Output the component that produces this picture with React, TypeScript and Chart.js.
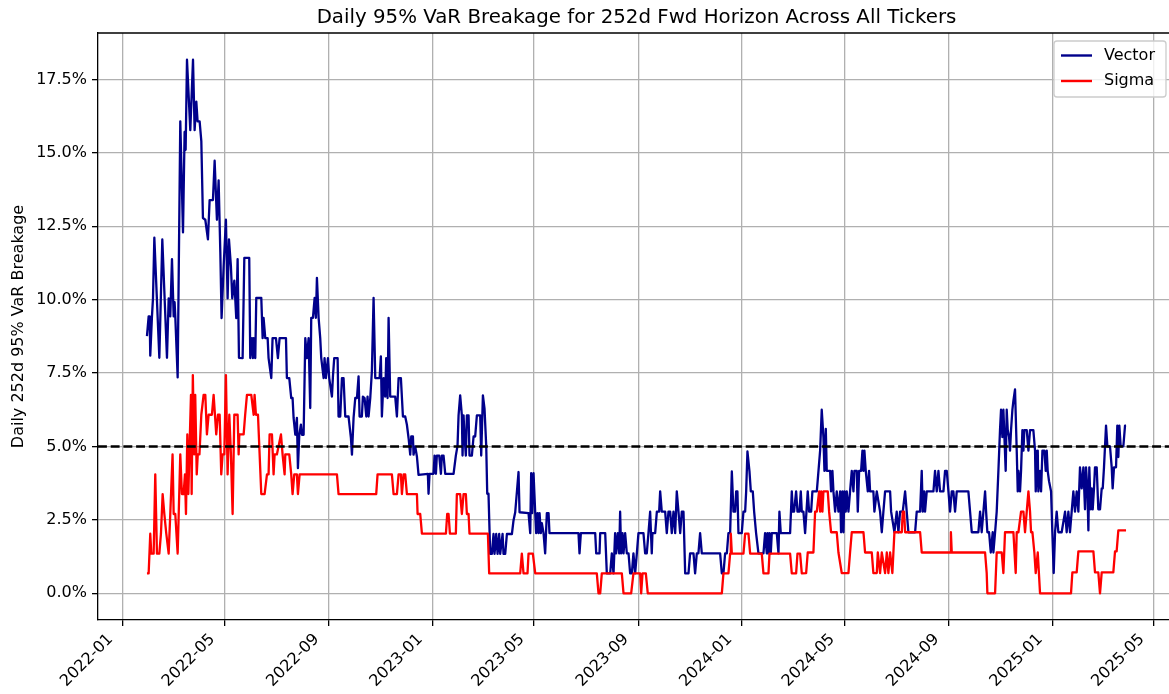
import React, { useEffect, useRef } from "react";
import { Chart, registerables } from "chart.js";

Chart.register(...registerables);

// ---------- data ----------
const EPOCH = Date.UTC(2022, 0, 1); // day offsets below are counted from 2022-01-01
const DAY_MS = 86400000;

const TITLE = "Daily 95% VaR Breakage for 252d Fwd Horizon Across All Tickers";
const Y_LABEL = "Daily 252d 95% VaR Breakage";
const SERIES_NAMES = ["Vector", "Sigma"];
const X_TICK_LABELS = [
  "2022-01", "2022-05", "2022-09", "2023-01", "2023-05", "2023-09",
  "2024-01", "2024-05", "2024-09", "2025-01", "2025-05",
];
const Y_TICKS = [0, 2.5, 5, 7.5, 10, 12.5, 15, 17.5];
const THRESHOLD = 5.0;

const VECTOR_DAYS = [
  28.7, 30.7, 31.9, 32.6, 34.6, 35.8, 37.4, 43.3, 46.8, 52.3, 54.3, 56.2, 58.2, 60.2, 61.3, 62.1, 64.9, 68.0,
  71.2, 73.1, 74.3, 75.9, 79.8, 83.0, 84.9, 86.9, 88.4, 90.8, 92.8, 94.7, 97.5, 100.6, 102.6, 106.5, 108.5,
  111.2, 113.2, 115.2, 116.7, 119.1, 121.8, 123.8, 125.4, 127.7, 129.3, 131.7, 134.0, 135.6, 137.2,
  141.5, 143.5, 149.3, 150.5, 152.5, 153.7, 154.5, 156.4, 157.6, 163.5, 165.1, 166.2, 168.2, 171.0, 172.1,
  175.3, 176.8, 180.8, 183.1, 185.1, 192.6, 193.7, 196.5, 198.8, 200.4, 201.6, 203.6, 205.5, 206.7, 208.3,
  210.2, 211.4, 213.4, 215.4, 217.3, 219.3, 221.2, 222.4, 224.4, 226.4, 227.9, 229.1, 231.1, 233.0, 234.2,
  237.0, 238.1, 239.7, 242.1, 243.6,
  246.8, 248.0, 249.5, 253.5, 254.6, 256.6, 258.6, 260.5, 262.5, 266.4, 269.2, 270.4, 272.3, 274.3, 276.3,
  278.2, 279.4, 282.1, 283.3, 285.3, 287.3, 288.8, 290.0, 292.0, 293.9, 295.9, 297.9, 303.0, 304.5, 305.7,
  307.7, 309.6, 310.8, 312.4, 313.6, 315.5, 321.4, 323.4, 325.4, 328.1, 330.5, 333.2, 335.2, 337.2, 339.1,
  340.3, 342.3, 343.0, 345.0, 347.0, 348.9,
  359.9, 360.7, 361.9, 366.6, 367.8, 369.4, 370.5, 373.3, 375.3, 376.4, 378.4, 380.4, 390.2, 392.9, 394.9,
  396.1, 398.0, 400.0, 400.8, 402.0, 403.1, 404.7, 405.9, 407.9, 409.0, 411.8, 413.8, 415.7, 417.7, 421.6,
  422.8, 424.8, 426.7, 428.7, 429.9, 431.4, 433.4, 435.4, 437.3, 438.5, 440.5, 442.1, 444.0, 445.2, 448.0,
  449.1, 451.1, 453.1, 459.0, 460.9, 462.9, 466.8, 468.0,
  478.6, 480.6, 481.7, 482.9, 484.5, 486.5, 487.6, 489.2, 490.4, 491.6, 493.1, 494.3, 496.3, 498.2, 500.2,
  502.2, 503.3, 537.5, 538.7, 540.3, 557.2, 558.4, 562.3, 563.1, 569.0, 570.9, 574.9, 576.8, 578.8,
  580.7, 581.9, 583.9, 585.5, 586.6, 587.8, 589.4, 590.6, 592.5, 594.5, 596.5, 598.4, 600.4, 602.3, 604.3,
  606.3, 608.2, 614.1, 616.1, 618.0, 620.0, 622.0, 623.9, 624.7, 627.9, 629.9, 632.6, 633.8, 635.7, 639.7,
  641.6, 643.6, 645.6, 647.5, 649.5, 651.5, 653.4, 655.4, 657.4, 659.3, 661.3, 663.3, 667.2, 669.1, 673.1,
  675.0, 677.0, 678.9, 680.9, 682.9,
  704.5, 706.5, 708.4, 710.4, 712.4, 714.3, 716.3, 718.3, 720.2, 722.2, 723.4, 724.9, 726.1, 730.0, 732.0,
  734.0, 735.2, 736.7, 739.1, 740.7, 743.0, 744.6, 746.9, 749.7, 755.6, 757.5, 759.5, 760.3, 761.5, 762.7,
  764.2, 765.4, 771.3, 773.3, 774.4, 776.0, 787.0, 789.0, 790.2, 791.7, 794.1, 795.7, 798.0, 799.6, 800.8,
  802.7, 804.7,
  807.8, 809.4, 811.8, 813.3, 818.5, 822.4, 824.3, 826.3, 827.5, 829.1, 830.2, 834.2, 835.3, 836.9, 838.1,
  840.1, 842.0, 844.0, 846.0, 847.1, 848.7, 849.9, 851.1, 852.6, 853.8, 855.8, 857.7, 859.7, 861.7, 862.8,
  865.6, 866.8, 868.4, 870.7, 872.3, 873.5, 874.6, 876.2, 878.6, 880.1, 881.3, 885.2, 886.4, 889.2, 893.1,
  895.1, 897.0, 899.0, 904.9, 906.1, 910.0, 912.7, 914.7,
  916.7, 919.8, 922.6, 924.5, 926.5, 934.4, 936.3, 940.3, 942.2, 943.4, 945.0, 946.1, 948.1, 956.0, 957.9,
  959.9, 961.9, 963.8, 967.8, 969.7, 971.7, 973.7, 975.6, 977.6, 979.5, 981.5, 983.5, 997.2, 999.2, 1001.2,
  1009.0, 1011.0, 1012.9, 1016.9, 1018.1, 1019.6, 1021.6, 1023.6, 1025.9, 1026.7, 1028.7, 1030.6,
  1032.6, 1034.5, 1035.7, 1037.3, 1038.5, 1039.7, 1041.2, 1042.4, 1043.6, 1045.2, 1046.3, 1047.5, 1049.1,
  1050.3, 1052.2, 1054.2, 1055.4, 1056.2, 1058.1, 1059.3, 1060.9, 1062.1, 1063.2, 1066.0, 1068.0, 1069.9,
  1073.8, 1075.8, 1076.6, 1077.8, 1079.0, 1079.7, 1081.7, 1082.9, 1084.5, 1086.8, 1088.4, 1089.6, 1090.7,
  1092.3, 1094.7, 1096.2, 1097.8, 1099.4, 1101.3, 1103.3, 1107.2, 1111.2, 1113.1, 1115.1, 1117.0, 1119.0,
  1121.0, 1122.9, 1124.9, 1126.9,
  1128.8, 1130.8, 1132.8, 1134.7, 1135.9, 1137.5, 1138.7, 1139.8, 1141.4, 1142.6, 1143.8, 1145.3, 1146.5,
  1148.5, 1150.4, 1152.4, 1154.4, 1155.6, 1157.1, 1159.5, 1161.1, 1164.2, 1166.2, 1167.3, 1168.9, 1171.3,
  1172.8, 1174.0, 1175.2, 1176.8, 1179.9, 1181.9, 1183.1,
];
const VECTOR_VALUES = [
  8.76, 9.43, 9.43, 8.09, 9.43, 10.04, 12.11, 8.02, 12.05, 8.02, 10.04, 9.43, 11.38, 9.43, 9.91, 9.43, 7.35, 16.07,
  12.29, 15.71, 15.10, 18.17, 15.77, 18.17, 15.77, 16.74, 16.07, 16.07, 15.40, 12.78, 12.72, 12.05, 13.39, 13.39, 14.73,
  12.72, 14.06, 11.62, 9.37, 11.13, 12.72, 10.04, 12.05, 11.13, 10.04, 10.65, 9.37, 11.38, 8.02,
  8.01, 11.42, 11.42, 8.01, 8.69, 8.01, 8.69, 8.01, 10.06, 10.06, 8.69, 9.38, 8.69, 8.69, 8.01,
  7.33, 8.69, 8.69, 8.01, 8.69, 8.69, 7.33, 7.33, 6.65, 6.65, 5.97, 5.40, 5.97, 4.26, 5.40,
  5.74, 5.40, 5.40, 8.69, 8.01, 8.69, 6.31, 9.38, 9.38, 10.06, 9.38, 10.74, 9.38, 8.69, 8.01,
  7.33, 8.01, 7.33, 8.01, 7.33,
  6.70, 7.39, 8.01, 8.01, 6.02, 6.02, 7.33, 7.33, 6.02, 6.02, 5.28, 4.72, 5.97, 6.65, 6.65,
  7.39, 6.02, 6.02, 6.70, 6.65, 6.02, 6.70, 6.02, 6.65, 7.56, 10.06, 7.33, 7.33, 8.07, 6.02,
  7.33, 6.70, 8.01, 6.65, 9.38, 6.70, 6.70, 6.02, 7.33, 7.33, 6.02, 6.02, 5.74, 5.28, 4.72,
  5.34, 5.34, 4.72, 5.00, 4.66, 4.03,
  4.07, 3.39, 4.07, 4.07, 4.69, 4.07, 4.69, 4.69, 4.07, 4.69, 4.69, 4.07, 4.07, 4.69, 5.03,
  6.06, 6.74, 6.06, 4.69, 6.06, 5.34, 4.69, 6.06, 6.06, 4.69, 4.69, 5.34, 5.34, 6.06, 6.06,
  4.69, 6.74, 6.29, 5.03, 3.39, 3.39, 1.34, 1.34, 2.02, 1.34, 2.02, 1.34, 2.02, 1.34, 2.02,
  1.34, 1.34, 2.02, 2.02, 2.48, 2.76, 4.13, 2.76,
  2.73, 2.05, 4.09, 2.73, 4.09, 2.73, 2.05, 2.73, 2.05, 2.73, 2.05, 2.39, 2.05, 1.36, 2.73,
  2.73, 2.05, 2.05, 1.36, 2.05, 2.05, 1.36, 1.36, 2.05, 2.05, 0.68, 0.68, 1.36, 0.68,
  2.05, 1.36, 2.05, 1.36, 2.78, 1.36, 2.05, 1.36, 2.05, 1.36, 1.36, 0.68, 0.68, 1.36, 0.68,
  1.36, 2.05, 2.05, 1.36, 1.36, 2.05, 2.78, 1.36, 2.05, 2.05, 2.78, 2.78, 3.47, 2.78, 2.78,
  2.05, 2.78, 2.78, 2.05, 2.78, 2.05, 3.47, 2.78, 2.05, 2.78, 2.78, 0.68, 0.68, 1.36, 1.36,
  0.68, 1.36, 1.36, 2.05, 1.36,
  1.36, 0.68, 0.68, 1.36, 1.36, 2.05, 2.05, 4.15, 2.78, 2.78, 3.47, 3.47, 2.05, 2.05, 2.78,
  2.78, 3.47, 4.83, 4.15, 3.47, 3.47, 2.78, 2.05, 1.36, 1.36, 2.05, 1.36, 2.05, 1.36, 2.05,
  1.36, 2.05, 2.05, 1.36, 2.78, 2.05, 2.05, 3.47, 2.78, 2.78, 3.47, 2.78, 2.78, 3.47, 2.78,
  2.78, 2.05,
  3.47, 2.78, 2.78, 3.47, 3.47, 4.86, 6.25, 5.32, 4.17, 5.60, 4.17, 4.17, 3.47, 4.17, 3.47,
  2.78, 3.47, 2.78, 3.47, 2.08, 3.47, 2.08, 3.47, 2.78, 3.47, 2.78, 3.47, 4.17, 3.47, 4.17,
  4.17, 2.78, 4.17, 4.17, 4.86, 4.17, 4.86, 4.17, 3.47, 4.17, 3.47, 3.47, 2.78, 3.47, 2.78,
  2.08, 2.78, 3.47, 3.47, 2.78, 2.08, 2.78, 2.08,
  2.78, 2.78, 3.47, 2.78, 2.08, 2.08, 2.78, 2.78, 4.17, 2.78, 3.47, 2.78, 3.47, 3.47, 4.17,
  3.47, 4.17, 3.47, 3.47, 4.17, 4.17, 3.47, 2.78, 3.47, 3.47, 2.78, 3.47, 3.47, 2.78, 2.08,
  2.08, 2.78, 2.08, 3.47, 2.78, 2.08, 2.08, 1.39, 2.08, 1.39, 2.08, 2.78,
  4.17, 5.56, 6.25, 5.32, 6.25, 5.32, 4.17, 6.25, 5.56, 5.32, 4.86, 5.56, 6.25,
  6.56, 6.94, 4.86, 3.47, 4.17, 3.47, 4.17, 5.56, 4.86, 5.56, 5.56, 4.86, 5.56,
  5.56, 4.86, 3.47, 4.17, 4.86, 3.47, 4.17, 3.47, 4.86, 4.86, 4.17, 4.86, 4.17,
  3.82, 3.47, 2.08, 0.69, 2.08, 2.78, 2.08, 2.08, 2.78, 2.08, 2.78, 2.08, 2.78,
  3.47, 2.78, 3.47, 2.78,
  4.29, 3.57, 4.29, 2.86, 4.29, 3.57, 2.14, 4.29, 2.86, 3.57, 2.86, 3.57, 4.29,
  4.29, 2.86, 2.86, 3.57, 3.57, 4.29, 5.71, 5.00, 5.00, 4.29, 3.57, 4.29, 4.29,
  5.71, 4.64, 5.71, 5.00, 5.00, 5.71, 5.71,
];

const SIGMA_DAYS = [
  28.7, 30.7, 32.6, 33.8, 36.6, 38.5, 40.5, 43.3, 45.2, 47.2, 49.2, 51.5, 54.3, 56.2, 58.9, 60.2, 62.1, 64.9,
  68.0, 69.9, 71.9, 73.5, 74.7, 76.3, 77.5, 78.7, 80.6, 81.4, 82.8, 84.4, 85.6, 87.4, 88.6, 90.6, 92.8, 95.5,
  97.5, 99.4, 101.4, 105.3, 107.3, 110.4, 112.4, 114.4, 116.3, 117.9, 119.9, 121.8, 123.8, 125.8, 127.7,
  129.7, 131.7, 135.6, 136.8, 137.6, 142.7, 144.5, 146.6, 151.7, 154.5, 155.6, 157.2, 159.6, 163.5, 167.4,
  170.2, 172.1, 173.3, 176.1, 178.0, 179.2, 181.9, 186.7, 188.6, 191.0, 191.8, 196.5, 198.8, 200.4, 202.4,
  205.5, 206.7, 208.7, 252.7, 254.6, 299.0, 300.6, 317.5, 319.5, 323.4, 325.4, 328.1, 329.3, 331.3, 333.2,
  335.2, 347.0, 347.8, 350.9, 352.9, 381.2, 382.7, 384.3, 385.9, 392.9, 394.1, 398.0, 400.0, 402.0, 404.7,
  405.9, 407.9, 409.0, 430.7, 432.2, 468.8, 470.7, 472.7, 477.4, 478.6, 483.7, 486.5, 559.1, 561.1, 563.1,
  565.0, 588.6, 590.6, 599.6, 602.3, 610.2, 611.4, 613.0, 616.9, 619.2, 706.5, 708.4, 714.3, 716.3, 717.1,
  718.3, 732.0, 734.0, 737.9, 739.9, 753.6, 755.6, 761.5, 762.7, 787.0, 789.0, 794.1, 795.7, 798.8, 800.8,
  805.9, 807.8, 814.5, 816.5, 818.5, 821.2, 822.4, 823.6, 825.1, 826.3, 831.4, 833.0, 835.3, 842.0, 844.0,
  847.9, 855.8, 857.7, 859.7, 873.5, 875.4, 883.3, 885.2, 889.2, 890.4, 893.1, 895.1, 899.0, 901.0, 902.9,
  904.9, 907.6, 910.0, 918.7, 919.8, 921.4, 922.6, 940.3, 942.2, 975.6, 976.6, 977.6, 1016.9, 1018.8, 1019.6,
  1028.7, 1030.6, 1036.5, 1038.5, 1040.4, 1050.3, 1053.0, 1054.2, 1056.2, 1059.3, 1062.1, 1064.0, 1066.0,
  1068.0, 1069.9, 1071.1, 1072.7, 1075.0, 1076.6, 1079.0, 1081.7, 1118.2, 1119.8, 1124.9, 1126.9, 1144.6,
  1146.5, 1150.4, 1152.4, 1154.4, 1168.1, 1170.1, 1172.0, 1174.0, 1183.1,
];
const SIGMA_VALUES = [
  0.68, 0.68, 2.03, 1.35, 1.35, 4.05, 1.35, 1.35, 2.03, 3.38, 2.70, 2.03, 1.35, 2.70, 4.73, 2.70, 2.70, 1.35,
  4.73, 3.38, 3.38, 4.05, 2.70, 5.41, 3.38, 4.73, 6.76, 3.38, 7.43, 4.73, 6.76, 4.05, 4.73, 4.73, 6.08, 6.76,
  6.76, 5.41, 6.08, 6.08, 6.76, 5.41, 6.08, 6.08, 4.05, 4.73, 4.73, 7.43, 4.05, 6.08, 4.73,
  2.70, 6.08, 6.08, 4.73, 5.41, 5.41, 6.08, 6.76, 6.76, 6.08, 6.76, 6.08, 6.08, 3.38, 3.38,
  4.05, 4.05, 5.41, 5.41, 4.05, 4.73, 4.73, 5.41, 4.73, 4.05, 4.73, 4.73, 4.05, 3.38, 4.05,
  4.05, 3.38, 4.05, 4.05, 3.38, 3.38, 4.05, 4.05, 3.38, 3.38, 4.05, 4.05, 3.38, 4.05, 4.05,
  3.38, 3.38, 2.70, 2.70, 2.03, 2.03, 2.70, 2.70, 2.03, 2.03, 3.38, 3.38, 2.70, 3.38, 3.38,
  2.70, 2.70, 2.03, 2.03, 0.68, 0.68, 1.35, 0.68, 0.68, 1.35, 1.35, 0.68, 0.68, 0, 0,
  0.68, 0.68, 0, 0, 0.68, 0.68, 0, 0.68, 0.68, 0, 0, 0.68, 0.68, 1.35, 2.03,
  1.35, 1.35, 2.03, 2.03, 1.35, 1.35, 0.68, 0.68, 1.35, 1.35, 0.68, 0.68, 1.35, 1.35, 0.68,
  0.69, 1.39, 1.39, 2.78, 2.78, 3.47, 2.78, 3.47, 2.78, 3.47, 3.47, 2.78, 2.08, 2.08, 1.39,
  0.69, 0.69, 1.39, 2.08, 2.08, 1.39, 1.39, 0.69, 0.69, 1.39, 0.69, 1.39, 0.69, 1.39, 0.69,
  1.39, 0.69, 2.08, 2.08, 2.78, 2.78, 2.08, 2.08, 1.39, 1.39, 2.08, 1.39, 1.39, 0.69, 0,
  0, 1.39, 1.39, 0.69, 2.08, 2.08, 0.69, 2.08, 2.08, 2.78, 2.78, 2.08, 2.78,
  3.47, 2.78, 2.08, 2.08, 1.39, 0.69, 1.39, 0, 0, 0.71, 0.71, 1.43, 1.43,
  0.71, 0.71, 0, 0.71, 0.71, 1.43, 1.43, 2.14, 2.14,
];

// ---------- layout / style ----------
const CANVAS_W = 1176;
const CANVAS_H = 694;
const PLOT_LEFT = 98;
const PLOT_TOP = 33;
const PLOT_BOTTOM = 620;
const PLOT_RIGHT = 1175;
const FONT = '"DejaVu Sans", sans-serif';
const VECTOR_COLOR = "#00008b";
const SIGMA_COLOR = "#ff0000";
const GRID_COLOR = "#b0b0b0";

function toDay(label: string): number {
  const [y, m] = label.split("-").map(Number);
  return (Date.UTC(y, m - 1, 1) - EPOCH) / DAY_MS;
}

const decorPlugin = {
  id: "decor",
  afterDraw(chart: any) {
    const { ctx, chartArea: a } = chart;
    ctx.save();
    // top / right spines
    ctx.strokeStyle = "#000";
    ctx.lineWidth = 1.3;
    ctx.beginPath();
    ctx.moveTo(a.left, a.top);
    ctx.lineTo(a.right, a.top);
    ctx.lineTo(a.right, a.bottom);
    ctx.stroke();

    // title
    ctx.fillStyle = "#000";
    ctx.font = `19.8px ${FONT}`;
    ctx.textAlign = "center";
    ctx.textBaseline = "alphabetic";
    ctx.fillText(TITLE, (a.left + a.right) / 2, 23);

    // legend
    const bx = 1054, by = 41, bw = 112, bh = 56, r = 3;
    ctx.beginPath();
    ctx.moveTo(bx + r, by);
    ctx.lineTo(bx + bw - r, by);
    ctx.quadraticCurveTo(bx + bw, by, bx + bw, by + r);
    ctx.lineTo(bx + bw, by + bh - r);
    ctx.quadraticCurveTo(bx + bw, by + bh, bx + bw - r, by + bh);
    ctx.lineTo(bx + r, by + bh);
    ctx.quadraticCurveTo(bx, by + bh, bx, by + bh - r);
    ctx.lineTo(bx, by + r);
    ctx.quadraticCurveTo(bx, by, bx + r, by);
    ctx.closePath();
    ctx.fillStyle = "rgba(255,255,255,0.8)";
    ctx.fill();
    ctx.strokeStyle = "#cccccc";
    ctx.lineWidth = 1.3;
    ctx.stroke();

    const colors = [VECTOR_COLOR, SIGMA_COLOR];
    ctx.font = `16px ${FONT}`;
    ctx.textAlign = "left";
    ctx.textBaseline = "middle";
    SERIES_NAMES.forEach((name, i) => {
      const cy = 55.5 + i * 25.5;
      ctx.strokeStyle = colors[i];
      ctx.lineWidth = 2.4;
      ctx.beginPath();
      ctx.moveTo(bx + 7, cy);
      ctx.lineTo(bx + 38, cy);
      ctx.stroke();
      ctx.fillStyle = "#000";
      ctx.fillText(name, bx + 50, cy);
    });
    ctx.restore();
  },
};

export default function App() {
  const canvasRef = useRef<HTMLCanvasElement | null>(null);

  useEffect(() => {
    document.body.style.margin = "0";
    const canvas = canvasRef.current;
    if (!canvas) return;

    const vectorPts = VECTOR_DAYS.map((d, i) => ({ x: d, y: VECTOR_VALUES[i] }));
    const sigmaPts = SIGMA_DAYS.map((d, i) => ({ x: d, y: SIGMA_VALUES[i] }));

    const allDays = [...VECTOR_DAYS, ...SIGMA_DAYS];
    const dMin = Math.min(...allDays);
    const dMax = Math.max(...allDays);
    const xPad = (dMax - dMin) * 0.05;
    const xMin = dMin - xPad;
    const xMax = dMax + xPad;

    const allVals = [...VECTOR_VALUES, ...SIGMA_VALUES];
    const vMin = Math.min(...allVals);
    const vMax = Math.max(...allVals);
    const yPad = (vMax - vMin) * 0.05;

    const xTicks = X_TICK_LABELS.map(toDay);

    const chart = new Chart(canvas, {
      type: "line",
      data: {
        datasets: [
          {
            label: SERIES_NAMES[0],
            data: vectorPts,
            borderColor: VECTOR_COLOR,
            borderWidth: 2.3,
            pointRadius: 0,
            tension: 0,
            borderJoinStyle: "round",
            order: 3,
          },
          {
            label: SERIES_NAMES[1],
            data: sigmaPts,
            borderColor: SIGMA_COLOR,
            borderWidth: 2.3,
            pointRadius: 0,
            tension: 0,
            borderJoinStyle: "round",
            order: 2,
          },
          {
            label: "threshold",
            data: [
              { x: xMin, y: THRESHOLD },
              { x: xMax, y: THRESHOLD },
            ],
            borderColor: "#000",
            borderWidth: 2.4,
            borderDash: [8.9, 3.8],
            pointRadius: 0,
            order: 1,
          },
        ],
      },
      options: {
        animation: false,
        responsive: false,
        devicePixelRatio: 1,
        events: [],
        layout: {
          padding: { left: 0, top: PLOT_TOP, right: CANVAS_W - PLOT_RIGHT, bottom: 0 },
        },
        plugins: {
          legend: { display: false },
          tooltip: { enabled: false },
          title: { display: false },
        },
        scales: {
          x: {
            type: "linear",
            min: xMin,
            max: xMax,
            afterFit: (s: any) => {
              s.height = CANVAS_H - PLOT_BOTTOM;
            },
            afterBuildTicks: (s: any) => {
              s.ticks = xTicks.map((v) => ({ value: v }));
            },
            ticks: {
              autoSkip: false,
              minRotation: 45,
              maxRotation: 45,
              labelOffset: -12,
              padding: 4,
              color: "#000",
              font: { family: FONT, size: 16 },
              callback: (_v: any, i: number) => X_TICK_LABELS[i],
            },
            grid: {
              color: GRID_COLOR,
              lineWidth: 1.3,
              tickColor: "#000",
              tickWidth: 1.3,
              tickLength: 6,
            },
            border: { display: true, color: "#000", width: 1.3 },
          },
          y: {
            type: "linear",
            min: vMin - yPad,
            max: vMax + yPad,
            afterFit: (s: any) => {
              s.width = PLOT_LEFT;
            },
            afterBuildTicks: (s: any) => {
              s.ticks = Y_TICKS.map((v) => ({ value: v }));
            },
            ticks: {
              padding: 5,
              color: "#000",
              font: { family: FONT, size: 16 },
              callback: (v: any) => Number(v).toFixed(1) + "%",
            },
            grid: {
              color: GRID_COLOR,
              lineWidth: 1.3,
              tickColor: "#000",
              tickWidth: 1.3,
              tickLength: 6,
            },
            border: { display: true, color: "#000", width: 1.3 },
            title: {
              display: true,
              text: Y_LABEL,
              color: "#000",
              font: { family: FONT, size: 16 },
              padding: { top: 9, bottom: 0 },
            },
          },
        },
      },
      plugins: [decorPlugin],
    });

    return () => chart.destroy();
  }, []);

  return (
    <div
      style={{
        position: "absolute",
        left: 0,
        top: 0,
        width: 1169,
        height: 694,
        overflow: "hidden",
        background: "#fff",
      }}
    >
      <canvas
        ref={canvasRef}
        width={CANVAS_W}
        height={CANVAS_H}
        style={{ display: "block", width: CANVAS_W, height: CANVAS_H }}
      />
    </div>
  );
}
